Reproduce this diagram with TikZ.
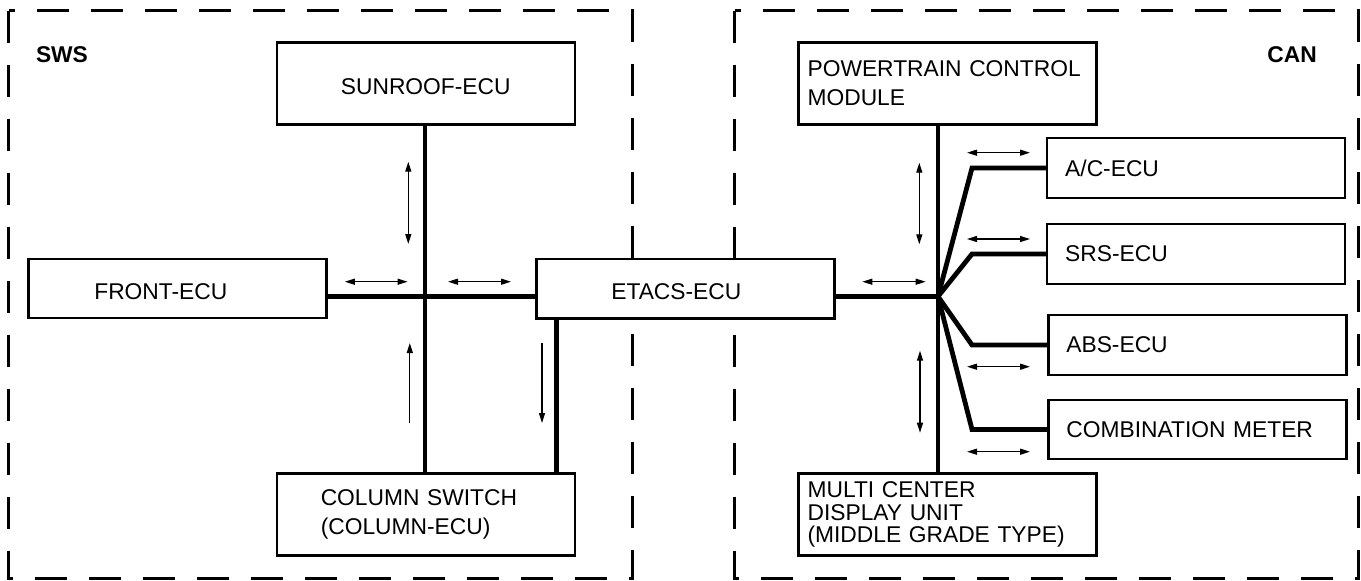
\documentclass[tikz,border=0pt]{standalone}
\usepackage{fontspec}
\setmainfont{Liberation Sans}
\usetikzlibrary{arrows.meta}

\begin{document}
\begin{tikzpicture}[x=0.5pt,y=-0.5pt,
			>={Triangle[length=5pt,width=3pt]},
			zone/.style={line width=1.3pt,dash pattern=on 16pt off 11pt},
			bus/.style={line width=2.4pt},
			sig/.style={line width=0.65pt},
			tag/.style={anchor=base west,inner sep=0pt,font=\fontsize{11.4}{14}\selectfont\bfseries},
			ecu/.style={draw,fill=white,line width=1.2pt,inner ysep=0pt,align=left,
				minimum height=29.75pt,font=\fontsize{11.4}{14.5}\selectfont},
			tall/.style={minimum height=41pt},
			low/.style={text height=11pt,text depth=0pt}]
			\useasboundingbox (0,0) rectangle (1361,580);
			
			\draw [zone] (8.7,10.7) rectangle (632.3,578.3);
			\draw [zone] (734.7,10.7) rectangle (1358.4,578.3);
			\node [tag] (sws) at (35.6,62) {SWS};
			\node [tag] (can) at (1267,62) {CAN};
			
			\node [ecu,tall,low,align=center,minimum width=149pt] (sunroof) at (425.75,83.5) {SUNROOF-ECU};
			\node [ecu,low,inner xsep=33pt,text width=83pt] (front) at (177.35,288.5) {FRONT-ECU};
			\node [ecu,low,inner xsep=37.5pt,text width=74pt] (etacs) at (685.3,288.7) {ETACS-ECU};
			\node [ecu,tall,inner xsep=22pt,text width=105pt] (column) at (425.75,514.3) {COLUMN SWITCH\\(COLUMN-ECU)};
			
			\node [ecu,tall,inner xsep=4.6pt,text width=139.8pt] (ptm) at (947.35,83.5) {POWERTRAIN~CONTROL\\MODULE};
			\node [ecu,tall,inner xsep=4.6pt,text width=139.8pt,font=\fontsize{11.4}{11.3}\selectfont] (mcd) at (947.35,514.5) {MULTI CENTER\\DISPLAY UNIT\\(MIDDLE GRADE TYPE)};
			\node [ecu,inner xsep=9pt,text width=131pt] (ac) at (1196.2,168) {A/C-ECU};
			\node [ecu,inner xsep=9pt,text width=131pt] (srs) at (1196.2,254) {SRS-ECU};
			\node [ecu,inner xsep=9pt,text width=131pt] (abs) at (1197.35,345) {ABS-ECU};
			\node [ecu,inner xsep=9pt,text width=131pt] (comb) at (1197.35,429.5) {COMBINATION METER};
			
			\coordinate (jl) at (425,296.5);
			\coordinate (cs) at (556.6,296.5);
			\coordinate (jr) at (938,296.5);
			\coordinate (bend) at (972,296.5);
			
			\draw [bus] (front.east |- jl) -- (etacs.west |- jl);
			\draw [bus] (sunroof.south -| jl) -- (column.north -| jl);
			\draw [bus] (etacs.south -| cs) -- (column.north -| cs);
			\draw [bus] (etacs.east |- jr) -- (jr);
			\draw [bus] (ptm.south -| jr) -- (mcd.north -| jr);
			\foreach \n in {ac,srs,abs,comb}
				\draw [bus] (jr) -- (\n.west -| bend) -- (\n.west);
			
			\draw [sig,<->] (408.3,161.7) -- (408.3,244);
			\draw [sig,<->] (344.8,281.7) -- (407.6,281.7);
			\draw [sig,<->] (448,281.7) -- (511,281.7);
			\draw [sig,->] (409.8,423) -- (409.8,343);
			\draw [sig,->] (542,343) -- (542,423);
			
			\draw [sig,<->] (862.3,281.7) -- (925.7,281.7);
			\draw [sig,<->] (919.3,162.7) -- (919.3,244.3);
			\draw [sig,<->] (920,350.7) -- (920,432.7);
			\foreach \y in {152.7,239,366.7,451.7}
				\draw [sig,<->] (967,\y) -- (1030,\y);
			
			\end{tikzpicture}
\end{document}
